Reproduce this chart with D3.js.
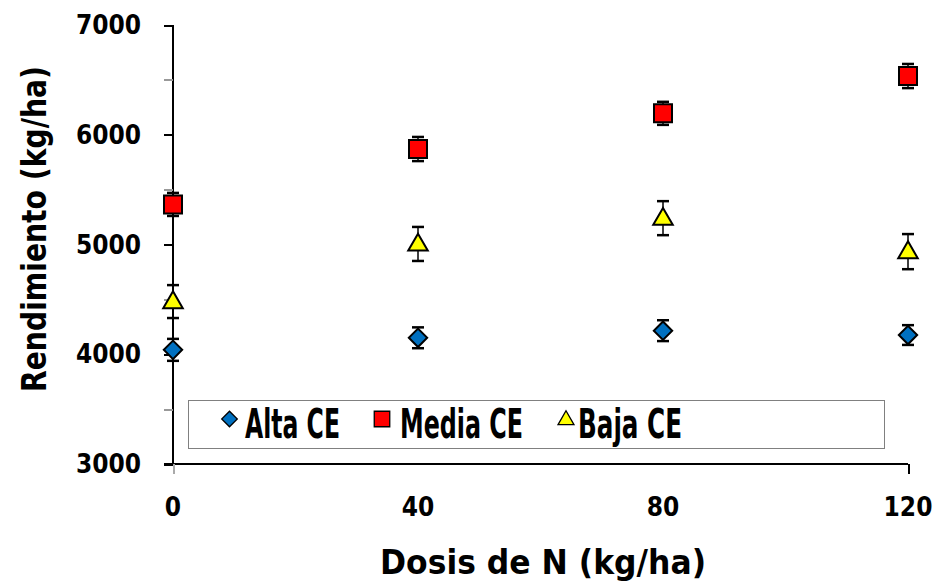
<!DOCTYPE html>
<html>
<head>
<meta charset="utf-8">
<script src="https://cdn.jsdelivr.net/npm/d3@7"></script>
<style>
  body { margin: 0; background: #fff; }
  svg text { font-family: "DejaVu Sans", sans-serif; fill: #000; }
</style>
</head>
<body>
<svg id="chart" width="937" height="581"></svg>
<script>
// data
const doses = [0, 40, 80, 120];
const alta = [4040, 4150, 4215, 4175];
const altaErr = [100, 95, 95, 90];
const media = [5365, 5870, 6195, 6535];
const mediaErr = [105, 110, 105, 110];
const baja = [4480, 5005, 5240, 4935];
const bajaErr = [150, 155, 155, 160];
const xTickLabels = [0, 40, 80, 120];
const yTickValues = [3000, 3500, 4000, 4500, 5000, 5500, 6000, 6500, 7000];

const series = [
    {name: "Alta CE", values: alta, err: altaErr, shape: "diamond", color: "#0070c0"},
    {name: "Media CE", values: media, err: mediaErr, shape: "square", color: "#ff0000"},
    {name: "Baja CE", values: baja, err: bajaErr, shape: "triangle", color: "#ffff00"}
];

let svg = d3.select("#chart");

let x = d3.scaleLinear().domain([0, 120]).range([173, 908]);
let y = d3.scaleLinear().domain([3000, 7000]).range([464, 25]);

// symbol paths, big = plot, small = legend
function markerPath(shape, big) {
    if (shape === "square") return d3.symbol(d3.symbolSquare, big ? 324 : 240)();
    if (shape === "diamond") return d3.symbol(d3.symbolSquare, big ? 169 : 121)();
    return d3.symbol(d3.symbolTriangle, big ? 165 : 110)();
}
function markerTransform(shape, cx, cy) {
    if (shape === "diamond") return "translate(" + cx + "," + cy + ") rotate(45)";
    if (shape === "triangle") return "translate(" + cx + "," + (cy + 1) + ")";
    return "translate(" + cx + "," + cy + ")";
}

// ****** axes ******
let yAxis = svg.append("g").attr("transform", "translate(173,0)")
    .call(d3.axisLeft(y).tickValues(yTickValues).tickSize(9).tickFormat(""));
yAxis.select(".domain").attr("stroke", "#000").attr("stroke-width", 2)
    .attr("shape-rendering", "crispEdges").attr("d", "M0,25V464");
yAxis.selectAll(".tick line")
    .attr("stroke", d => d % 1000 === 0 ? "#000" : "#999")
    .attr("stroke-width", 2).attr("shape-rendering", "crispEdges");

svg.append("g").selectAll("text")
    .data(yTickValues.filter(d => d % 1000 === 0))
    .enter().append("text")
    .attr("x", 141)
    .attr("y", d => y(d) + 9)
    .attr("text-anchor", "end")
    .style("font-size", "26px")
    .style("font-weight", "bold")
    .style("font-stretch", "condensed")
    .text(d => d);

let xAxis = svg.append("g").attr("transform", "translate(0,464)")
    .call(d3.axisBottom(x).tickValues([0, 120]).tickSize(10).tickFormat(""));
xAxis.select(".domain").attr("stroke", "#000").attr("stroke-width", 2)
    .attr("shape-rendering", "crispEdges").attr("d", "M164,0H908");
xAxis.selectAll(".tick line")
    .attr("stroke", d => d === 0 ? "#aaa" : "#000")
    .attr("stroke-width", 2).attr("shape-rendering", "crispEdges");

svg.append("g").selectAll("text")
    .data(xTickLabels)
    .enter().append("text")
    .attr("x", d => x(d))
    .attr("y", 516)
    .attr("text-anchor", "middle")
    .style("font-size", "26px")
    .style("font-weight", "bold")
    .style("font-stretch", "condensed")
    .text(d => d);

// axis titles
svg.append("text")
    .attr("x", 543).attr("y", 574)
    .attr("text-anchor", "middle")
    .attr("textLength", 326).attr("lengthAdjust", "spacingAndGlyphs")
    .style("font-size", "33px")
    .style("font-weight", "bold")
    .text("Dosis de N (kg/ha)");

svg.append("text")
    .attr("transform", "translate(46,229) rotate(-90)")
    .attr("text-anchor", "middle")
    .attr("textLength", 326).attr("lengthAdjust", "spacingAndGlyphs")
    .style("font-size", "34px")
    .style("font-weight", "bold")
    .text("Rendimiento (kg/ha)");

// ****** legend ******
let legend = svg.append("g");
legend.append("rect")
    .attr("x", 188.5).attr("y", 400.5)
    .attr("width", 696).attr("height", 48)
    .attr("fill", "#fff").attr("stroke", "#808080").attr("stroke-width", 1);

let legendPos = [
    {mx: 229.5, tx: 245, tl: 95},
    {mx: 382, tx: 400, tl: 123},
    {mx: 566, tx: 578, tl: 104}
];
series.forEach(function(s, i) {
    let p = legendPos[i];
    legend.append("path")
        .attr("d", markerPath(s.shape, false))
        .attr("transform", markerTransform(s.shape, p.mx, 419))
        .attr("fill", s.color).attr("stroke", "#000").attr("stroke-width", 1.3);
    // tall narrow lettering: condensed face stretched vertically
    legend.append("text")
        .attr("transform", "translate(" + p.tx + ",438) scale(1,1.35)")
        .attr("textLength", p.tl).attr("lengthAdjust", "spacingAndGlyphs")
        .style("font-family", "'DejaVu Sans Condensed', 'DejaVu Sans', sans-serif")
        .style("font-stretch", "condensed")
        .style("font-size", "30px")
        .style("font-weight", "bold")
        .text(s.name);
});

// ****** error bars and markers ******
series.forEach(function(s) {
    let g = svg.append("g");
    let pts = doses.map((d, i) => ({x: d, y: s.values[i], e: s.err[i]}));

    g.selectAll("line.bar").data(pts).enter().append("line")
        .attr("class", "bar")
        .attr("x1", d => x(d.x)).attr("x2", d => x(d.x))
        .attr("y1", d => y(d.y + d.e)).attr("y2", d => y(d.y - d.e))
        .attr("stroke", "#000").attr("stroke-width", 1.5);

    [1, -1].forEach(function(sign) {
        g.selectAll("line.cap" + sign).data(pts).enter().append("line")
            .attr("x1", d => x(d.x) - 6).attr("x2", d => x(d.x) + 6)
            .attr("y1", d => y(d.y + sign * d.e)).attr("y2", d => y(d.y + sign * d.e))
            .attr("stroke", "#000").attr("stroke-width", 2.5);
    });

    g.selectAll("path.mark").data(pts).enter().append("path")
        .attr("class", "mark")
        .attr("d", markerPath(s.shape, true))
        .attr("transform", d => markerTransform(s.shape, x(d.x), y(d.y)))
        .attr("fill", s.color).attr("stroke", "#000").attr("stroke-width", 2);
});
</script>
</body>
</html>
